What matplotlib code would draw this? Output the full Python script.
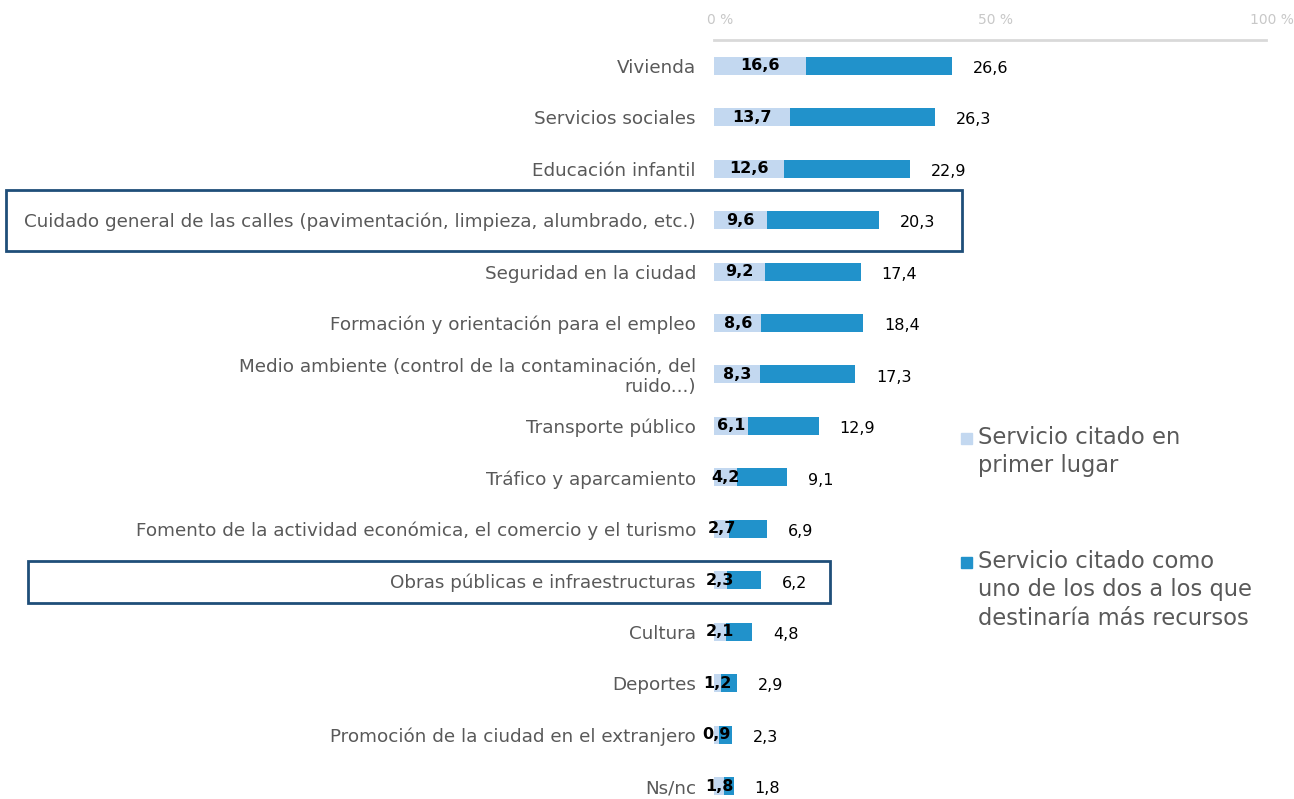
import matplotlib.pyplot as plt
from matplotlib.patches import Rectangle
import matplotlib.transforms as mtransforms

# data
categorias = [
    "Vivienda",
    "Servicios sociales",
    "Educación infantil",
    "Cuidado general de las calles (pavimentación, limpieza, alumbrado, etc.)",
    "Seguridad en la ciudad",
    "Formación y orientación para el empleo",
    "Medio ambiente (control de la contaminación, del\nruido...)",
    "Transporte público",
    "Tráfico y aparcamiento",
    "Fomento de la actividad económica, el comercio y el turismo",
    "Obras públicas e infraestructuras",
    "Cultura",
    "Deportes",
    "Promoción de la ciudad en el extranjero",
    "Ns/nc",
]
primer_lugar = [16.6, 13.7, 12.6, 9.6, 9.2, 8.6, 8.3, 6.1, 4.2, 2.7, 2.3, 2.1, 1.2, 0.9, 1.8]
dos_servicios = [26.6, 26.3, 22.9, 20.3, 17.4, 18.4, 17.3, 12.9, 9.1, 6.9, 6.2, 4.8, 2.9, 2.3, 1.8]
ticks = [0, 50, 100]
tick_labels = ["0 %", "50 %", "100 %"]
resaltados = [3, 10]
leyenda = ["Servicio citado en\nprimer lugar",
           "Servicio citado como\nuno de los dos a los que\ndestinaría más recursos"]

c_claro = "#C3D8F0"
c_oscuro = "#2192CB"
gris = "#595959"

def fmt(v):
    return f"{v:.1f}".replace(".", ",")

plt.rcParams['font.family'] = ['DejaVu Sans']

fig = plt.figure(figsize=(12.94, 7.99), dpi=100)
ax = fig.add_axes([714 / 1294, 0, 552 / 1294, 759 / 799])

y = list(range(len(categorias)))
ax.barh(y, primer_lugar, height=0.35, color=c_claro)
ax.barh(y, dos_servicios, left=primer_lugar, height=0.35, color=c_oscuro)

for i in y:
    ax.text(primer_lugar[i] / 2, i, fmt(primer_lugar[i]), ha="center", va="center",
            fontsize=11.5, fontweight="bold", color="black")
    ax.annotate(fmt(dos_servicios[i]), (primer_lugar[i] + dos_servicios[i], i),
                xytext=(15, -2), textcoords="offset points", ha="left", va="center",
                fontsize=11.5, color="black")

ax.set_xlim(0, 100)
ax.set_ylim(14.25, -0.5)
ax.set_yticks(y)
ax.set_yticklabels(categorias, fontsize=13.2, color=gris)
ax.tick_params(axis="y", length=0, pad=13)
ax.xaxis.tick_top()
ax.set_xticks(ticks)
ax.set_xticklabels(tick_labels, fontsize=10, color="#C8C8C8")
ax.tick_params(axis="x", length=0, pad=9)
shift = mtransforms.ScaledTranslation(6 / 100, 0, fig.dpi_scale_trans)
for lab in ax.get_xticklabels():
    lab.set_transform(lab.get_transform() + shift)
for lab in ax.get_yticklabels():
    lab.set_multialignment("right")
    lab.set_linespacing(1.1)
for s in ["right", "bottom", "left"]:
    ax.spines[s].set_visible(False)
ax.spines["top"].set_color("#D9D9D9")
ax.spines["top"].set_linewidth(2)

# highlight boxes
trans = mtransforms.blended_transform_factory(fig.transFigure, ax.transData)
cajas = {3: (6 / 1294, 962 / 1294, 0.59, 0.61), 10: (28 / 1294, 830 / 1294, 0.38, 0.44)}
for i in resaltados:
    x0, x1, up, down = cajas[i]
    fig.patches.append(Rectangle((x0, i - up), x1 - x0, up + down, transform=trans,
                                 fill=False, edgecolor="#1F4E79", linewidth=2))

# legend
for txt, col, ytop in zip(leyenda, [c_claro, c_oscuro], [438, 562]):
    fig.patches.append(Rectangle((961 / 1294, 1 - (ytop + 6) / 799), 11 / 1294, 11 / 799,
                                 transform=fig.transFigure, color=col))
    fig.text(978 / 1294, 1 - (ytop - 12) / 799, txt, ha="left", va="top",
             fontsize=16.3, color=gris, linespacing=1.3)

fig.savefig("out.png", dpi=100)
